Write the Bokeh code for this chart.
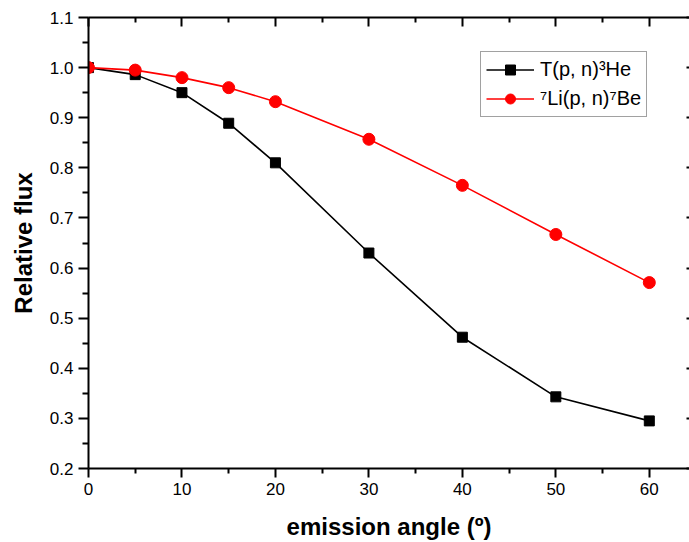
from bokeh.plotting import figure
from bokeh.models import Range1d, LinearAxis, Legend, LegendItem, FixedTicker, NumeralTickFormatter
from bokeh.embed import file_html
from bokeh.resources import INLINE

angles = [0, 5, 10, 15, 20, 30, 40, 50, 60]
t_he3 = [1.0, 0.986, 0.950, 0.889, 0.810, 0.630, 0.462, 0.343, 0.295]
li_be7 = [1.0, 0.995, 0.980, 0.960, 0.932, 0.857, 0.765, 0.667, 0.571]

x_ticks = [0, 10, 20, 30, 40, 50, 60]
y_ticks = [0.2, 0.3, 0.4, 0.5, 0.6, 0.7, 0.8, 0.9, 1.0, 1.1]
x_minor = [5, 15, 25, 35, 45, 55, 65]
y_minor = [0.25, 0.35, 0.45, 0.55, 0.65, 0.75, 0.85, 0.95, 1.05]

FONT = "Liberation Sans"

p = figure(width=689, height=542, output_backend="svg", toolbar_location=None,
           x_range=Range1d(0, 64.3), y_range=Range1d(0.2, 1.1),
           x_axis_location=None, y_axis_location=None,
           min_border_left=88, min_border_top=17, min_border_bottom=72, min_border_right=0)
p.outline_line_color = None
p.xgrid.visible = False
p.ygrid.visible = False
p.background_fill_color = "white"
p.border_fill_color = "white"

xt = FixedTicker(ticks=x_ticks, minor_ticks=x_minor)
yt = FixedTicker(ticks=y_ticks, minor_ticks=y_minor)

def style(ax):
    ax.axis_line_width = 2
    ax.major_tick_line_width = 2
    ax.minor_tick_line_width = 2
    ax.axis_line_color = "black"
    ax.major_tick_line_color = "black"
    ax.minor_tick_line_color = "black"
    ax.major_label_text_font = FONT
    ax.major_label_text_font_size = "17px"
    ax.major_label_text_color = "black"
    ax.axis_label_text_font = FONT
    ax.axis_label_text_font_size = "24px"
    ax.axis_label_text_font_style = "bold"
    ax.axis_label_text_color = "black"

bottom = LinearAxis(ticker=xt, axis_label="emission angle (\u00ba)")
style(bottom)
bottom.major_tick_in = 0
bottom.major_tick_out = 9
bottom.minor_tick_in = 0
bottom.minor_tick_out = 5
bottom.major_label_standoff = 5
bottom.axis_label_standoff = 15
p.add_layout(bottom, "below")

left = LinearAxis(ticker=yt, axis_label="Relative flux", formatter=NumeralTickFormatter(format="0.0"))
style(left)
left.major_tick_in = 0
left.major_tick_out = 10
left.minor_tick_in = 0
left.minor_tick_out = 6
left.major_label_standoff = 5
left.axis_label_standoff = 10
p.add_layout(left, "left")

top = LinearAxis(ticker=xt)
style(top)
top.major_tick_in = 9
top.major_tick_out = 0
top.minor_tick_in = 5
top.minor_tick_out = 0
top.major_label_text_font_size = "0px"
top.major_label_standoff = 0
top.major_label_text_alpha = 0
p.add_layout(top, "above")

right = LinearAxis(ticker=yt)
style(right)
right.axis_line_color = None
right.major_tick_in = 3
right.major_tick_out = 0
right.minor_tick_in = 0
right.minor_tick_out = 0
right.major_label_text_font_size = "0px"
right.major_label_standoff = 0
right.major_label_text_alpha = 0
p.add_layout(right, "right")

l1 = p.line(angles, t_he3, line_color="black", line_width=1.6)
m1 = p.scatter(angles, t_he3, marker="square", size=10, fill_color="black", line_color="black")
l2 = p.line(angles, li_be7, line_color="red", line_width=1.6)
m2 = p.scatter(angles, li_be7, marker="circle", size=12, fill_color="red", line_color="red")

legend = Legend(items=[LegendItem(label="T(p, n)\u00b3He", renderers=[l1, m1]),
                       LegendItem(label="\u2077Li(p, n)\u2077Be", renderers=[l2, m2])],
                location="top_right")
legend.label_text_font = FONT
legend.label_text_font_size = "20px"
legend.label_text_color = "black"
legend.border_line_color = "#444444"
legend.border_line_width = 1
legend.glyph_width = 48
legend.glyph_height = 25
legend.label_height = 25
legend.spacing = 4
legend.padding = 5
legend.margin = 0
legend.label_standoff = 6
legend.background_fill_alpha = 1
legend.location = (392, 351)
p.add_layout(legend, "center")

open("out.html", "w").write(file_html(p, INLINE))
